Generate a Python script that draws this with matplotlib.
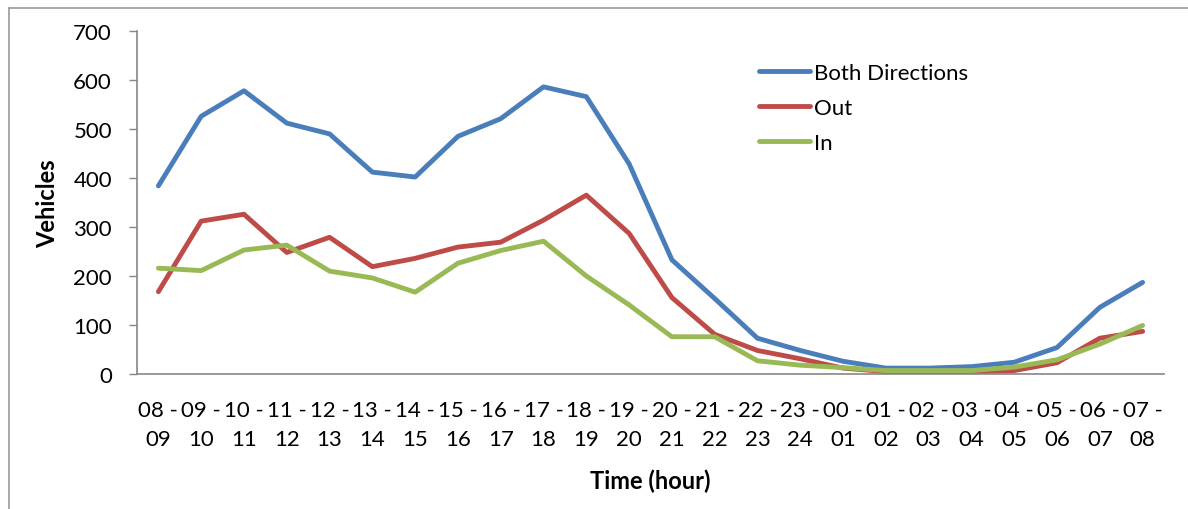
import matplotlib
matplotlib.use('Agg')
import matplotlib.pyplot as plt
from matplotlib.lines import Line2D

plt.rcParams['font.family'] = ['Lato', 'DejaVu Sans']

# hourly traffic counts
hours = ['08 -\n09', '09 -\n10', '10 -\n11', '11 -\n12', '12 -\n13', '13 -\n14',
         '14 -\n15', '15 -\n16', '16 -\n17', '17 -\n18', '18 -\n19', '19 -\n20',
         '20 -\n21', '21 -\n22', '22 -\n23', '23 -\n24', '00 -\n01', '01 -\n02',
         '02 -\n03', '03 -\n04', '04 -\n05', '05 -\n06', '06 -\n07', '07 -\n08']

both = [384, 526, 578, 512, 490, 412, 402, 485, 521, 586, 566, 429,
        233, 154, 73, 48, 26, 12, 12, 15, 24, 54, 136, 187]
out = [168, 312, 326, 248, 279, 219, 236, 259, 269, 314, 365, 287,
       156, 81, 48, 31, 12, 5, 5, 5, 7, 23, 73, 87]
inn = [216, 211, 253, 263, 210, 196, 167, 226, 252, 271, 200, 141,
       76, 76, 27, 18, 13, 7, 7, 7, 14, 29, 61, 99]

fig = plt.figure(figsize=(11.88, 5.10), dpi=100)
ax = fig.add_axes([137/1188, 1 - 375/510, (1164 - 137)/1188, (375 - 32)/510])

x = list(range(len(hours)))
ax.plot(x, both, color='#4A7EBB', lw=3.5, label='Both Directions', solid_capstyle='round')
ax.plot(x, out, color='#BE4B48', lw=3.5, label='Out', solid_capstyle='round')
ax.plot(x, inn, color='#98B954', lw=3.5, label='In', solid_capstyle='round')

ax.set_xlim(-0.5, len(hours) - 0.5)
ax.set_ylim(0, 700)
ax.set_yticks(range(0, 701, 100))
ax.set_xticks(x)
ax.set_xticklabels(hours, fontsize=16, linespacing=1.55)
ax.tick_params(axis='x', length=0, pad=19)
ax.tick_params(axis='y', length=6, width=1, color='#868686', direction='out', pad=12, labelsize=16)

for s in ['top', 'right']:
    ax.spines[s].set_visible(False)
for s in ['left', 'bottom']:
    ax.spines[s].set_color('#868686')
    ax.spines[s].set_linewidth(1.2)

ax.set_ylabel('Vehicles', fontsize=17, fontweight='bold', labelpad=10)
ax.set_xlabel('Time (hour)', fontsize=17, fontweight='bold', labelpad=14)

ax.legend(loc='upper left', bbox_to_anchor=(750/1188, 1 - 55/510),
          bbox_transform=fig.transFigure, frameon=False, fontsize=16,
          handlelength=2.3, handletextpad=0.2, labelspacing=0.68, borderaxespad=0)

# outer chart border (left and top edges visible)
fig.add_artist(Line2D([9/1188, 9/1188], [0, 1 - 9/510], transform=fig.transFigure,
                      color='#9a9a9a', lw=1.2))
fig.add_artist(Line2D([9/1188, 1], [1 - 9/510, 1 - 9/510], transform=fig.transFigure,
                      color='#9a9a9a', lw=1.2))

fig.savefig('out.png', dpi=100)
